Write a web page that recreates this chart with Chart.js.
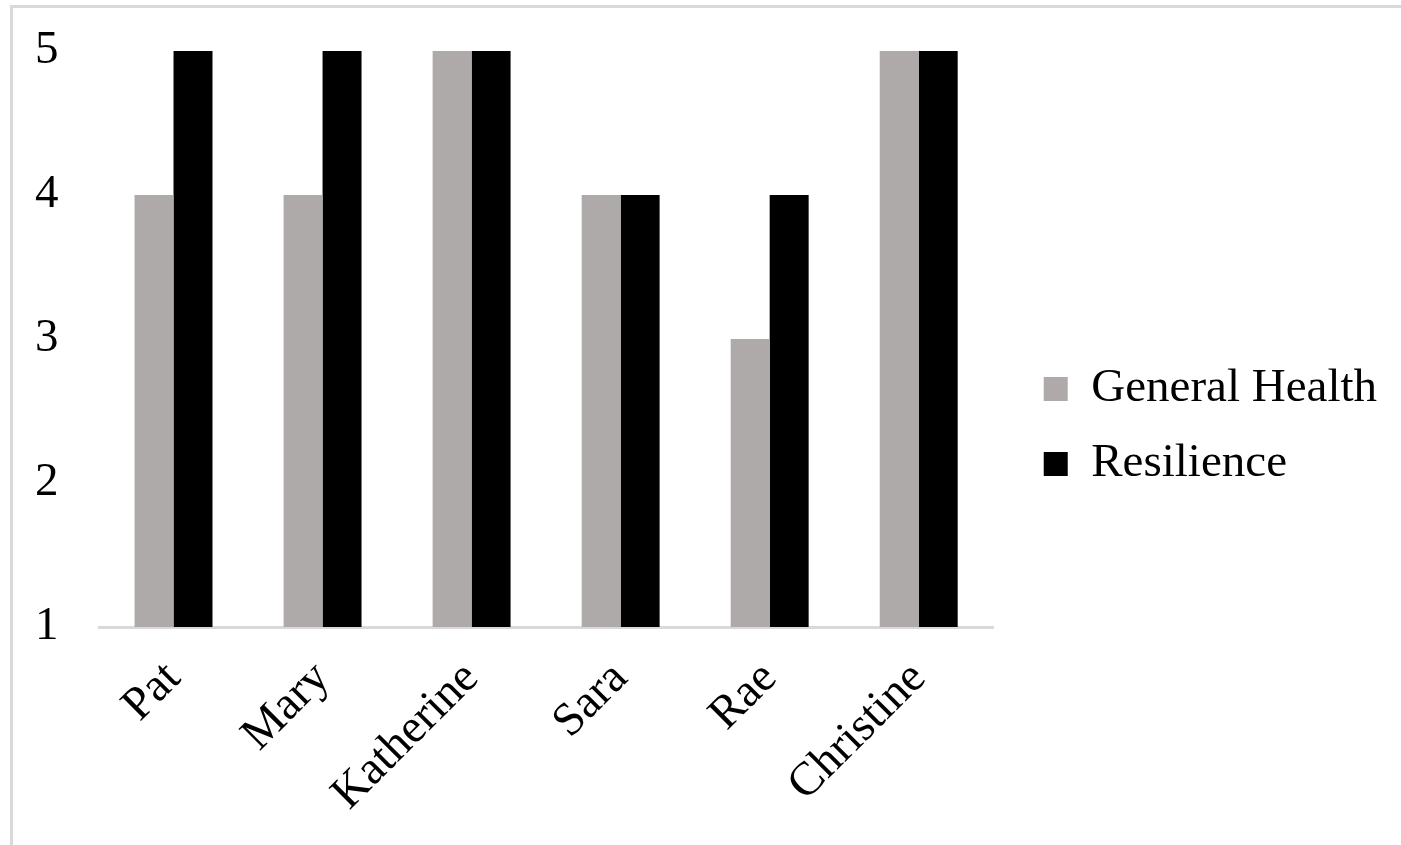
<!DOCTYPE html>
<html>
<head>
<meta charset="utf-8">
<script src="https://cdn.jsdelivr.net/npm/chart.js@4.4.1/dist/chart.umd.min.js"></script>
<style>
  html, body { margin: 0; padding: 0; background: #ffffff; }
  #wrap { position: relative; width: 1401px; height: 845px; overflow: hidden; }
  #frame { position: absolute; left: 10px; top: 5px; width: 1500px; height: 1000px;
           border-left: 3px solid #d9d9d9; border-top: 3px solid #d9d9d9; box-sizing: border-box; pointer-events: none; }
  canvas { position: absolute; left: 0; top: 0; }
</style>
</head>
<body>
<div id="wrap">
  <canvas id="c" width="1401" height="845"></canvas>
  <div id="frame"></div>
</div>
<script>
const categories = ["Pat", "Mary", "Katherine", "Sara", "Rae", "Christine"];
const generalHealth = [4, 4, 5, 4, 3, 5];
const resilience = [5, 5, 5, 4, 4, 5];
const yTicks = [1, 2, 3, 4, 5];

Chart.defaults.font.family = "'Liberation Serif', 'Times New Roman', serif";
Chart.defaults.font.size = 47;
Chart.defaults.color = "#000000";

new Chart(document.getElementById('c'), {
  type: 'bar',
  data: {
    labels: categories,
    datasets: [
      { label: 'General Health', data: generalHealth, backgroundColor: '#aeaaaa', borderWidth: 0,
        xAxisID: 'x', yAxisID: 'y', categoryPercentage: 0.523, barPercentage: 1.0 },
      { label: 'Resilience', data: resilience, backgroundColor: '#000000', borderWidth: 0,
        xAxisID: 'x', yAxisID: 'y', categoryPercentage: 0.523, barPercentage: 1.0 }
    ]
  },
  options: {
    responsive: false,
    animation: false,
    devicePixelRatio: 1,
    layout: { padding: { top: 8, bottom: 0, left: 35, right: 14 } },
    plugins: {
      legend: {
        position: 'right',
        align: 'center',
        maxWidth: 400,
        labels: { boxWidth: 24, boxHeight: 24, padding: 28, color: '#000000', font: { size: 47 } }
      },
      tooltip: { enabled: false }
    },
    scales: {
      x: {
        type: 'category',
        position: 'bottom',
        grid: { display: false, drawTicks: false },
        border: { display: true, color: '#d9d9d9', width: 3 },
        ticks: { autoSkip: false, minRotation: 45, maxRotation: 45, padding: 24, color: '#000000' },
        afterFit(s) { s.height = 218; }
      },
      y: {
        type: 'linear',
        position: 'left',
        min: 1, max: 5,
        afterBuildTicks(s) { s.ticks = yTicks.map(v => ({ value: v })); },
        grid: { display: false, drawTicks: false },
        border: { display: false },
        ticks: { stepSize: 1, padding: 0, crossAlign: 'far', color: '#000000' },
        afterFit(s) { s.width = 64; }
      },
      xTop: {
        type: 'linear', position: 'top', axis: 'x',
        grid: { display: false, drawTicks: false }, border: { display: false },
        ticks: { display: false },
        afterFit(s) { s.height = 43; }
      },
      yRight: {
        type: 'linear', position: 'right', axis: 'y',
        grid: { display: false, drawTicks: false }, border: { display: false },
        ticks: { display: false },
        afterFit(s) { s.width = 22.5; }
      }
    }
  }
});
</script>
</body>
</html>
